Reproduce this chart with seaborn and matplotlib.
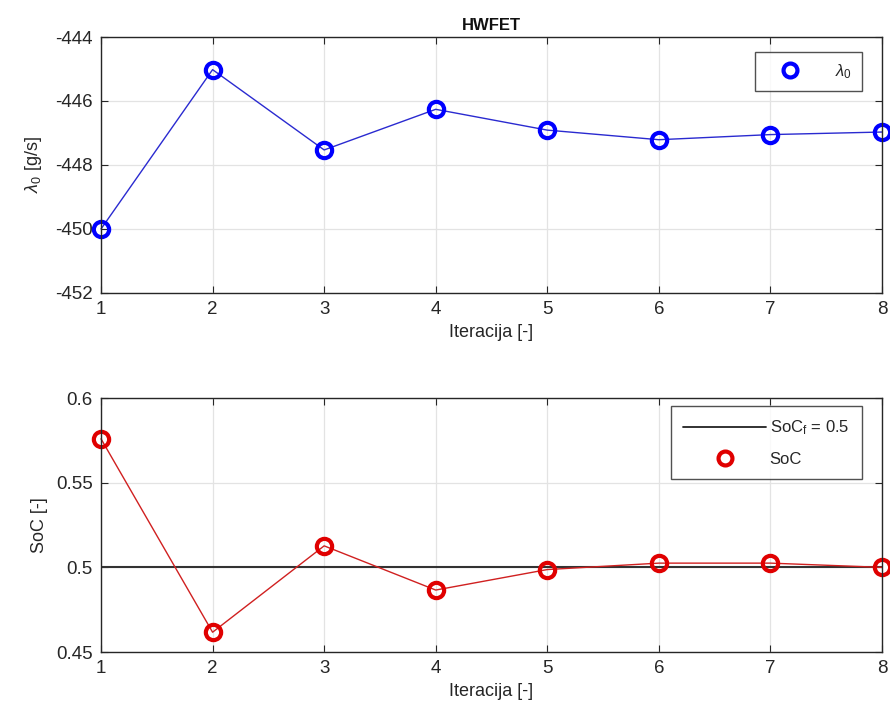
import numpy as np
import pandas as pd
import seaborn as sns
import matplotlib
matplotlib.use("Agg")
import matplotlib.pyplot as plt
from matplotlib.lines import Line2D

# ---- data ----
iterations = [1, 2, 3, 4, 5, 6, 7, 8]
lambda0 = [-450.0, -445.02, -447.53, -446.26, -446.91, -447.21, -447.05, -446.97]
soc = [0.5759, 0.4617, 0.5127, 0.4866, 0.4987, 0.5025, 0.5025, 0.5000]
soc_final = 0.5
title = "HWFET"
xlabel = "Iteracija [-]"
ylabel_top = r"$\lambda_0$ [g/s]"
ylabel_bot = "SoC [-]"
legend_top = [r"$\lambda_0$"]
legend_bot = [r"SoC$_{\rm f}$ = 0.5", "SoC"]
yticks_top = [-452, -450, -448, -446, -444]
yticks_bot = [0.45, 0.5, 0.55, 0.6]
ytick_labels_bot = ["0.45", "0.5", "0.55", "0.6"]

sns.set_theme(style="white")
plt.rcParams["font.family"] = ["Liberation Sans", "DejaVu Sans"]
plt.rcParams["mathtext.fontset"] = "custom"
plt.rcParams["mathtext.rm"] = "Liberation Sans"
plt.rcParams["mathtext.it"] = "Liberation Sans:italic"
plt.rcParams["axes.unicode_minus"] = False

df = pd.DataFrame({"it": iterations, "lam": lambda0, "soc": soc})

fig = plt.figure(figsize=(8.9, 7.2), dpi=100)
ax1 = fig.add_axes([0.1135, 0.5931, 0.991 - 0.1135, 0.9486 - 0.5931])
ax2 = fig.add_axes([0.1135, 0.0944, 0.991 - 0.1135, 0.4472 - 0.0944])

blue = "#0000ff"
red = "#e00000"

sns.lineplot(data=df, x="it", y="lam", ax=ax1, color="#2a2ad0", linewidth=1.0,
             marker="o", markersize=11, markerfacecolor="none",
             markeredgecolor=blue, markeredgewidth=3.0, legend=False, clip_on=False)
ax2.axhline(soc_final, color="#333333", linewidth=1.5, zorder=1)
sns.lineplot(data=df, x="it", y="soc", ax=ax2, color="#d02020", linewidth=1.0,
             marker="o", markersize=11, markerfacecolor="none",
             markeredgecolor=red, markeredgewidth=3.0, legend=False, clip_on=False)

for ax, yt in ((ax1, yticks_top), (ax2, yticks_bot)):
    ax.set_xlim(1, 8)
    ax.set_xticks(iterations)
    ax.set_yticks(yt)
    ax.set_ylim(yt[0], yt[-1])
    ax.grid(True, color="#e3e3e3", linewidth=0.9)
    ax.set_axisbelow(True)
    ax.tick_params(direction="in", length=5, width=0.8, colors="#262626",
                   labelsize=13.5, labelcolor="#262626", top=True, right=True,
                   bottom=True, left=True, pad=6)
    for s in ax.spines.values():
        s.set_color("#262626")
        s.set_linewidth(1.0)
    ax.set_xlabel(xlabel, fontsize=13, color="#262626", labelpad=4)

ax2.set_yticklabels(ytick_labels_bot)
ax1.set_ylabel(ylabel_top, fontsize=13, color="#262626", labelpad=8)
ax2.set_ylabel(ylabel_bot, fontsize=13, color="#262626", labelpad=6)
ax1.set_title(title, fontsize=12, fontweight="bold", color="#111111", pad=5)

h1 = [Line2D([], [], linestyle="none", marker="o", markersize=10,
             markerfacecolor="none", markeredgecolor=blue, markeredgewidth=3)]
leg1 = ax1.legend(h1, legend_top, loc="upper right", bbox_to_anchor=(0.974, 0.941),
                  borderaxespad=0, fontsize=12, frameon=True, fancybox=False,
                  edgecolor="#262626", handlelength=3.0, handletextpad=1.2, borderpad=0.6)
leg1.get_frame().set_linewidth(1.0)

h2 = [Line2D([], [], color="#222222", linewidth=1.3),
      Line2D([], [], linestyle="none", marker="o", markersize=10,
             markerfacecolor="none", markeredgecolor=red, markeredgewidth=3)]
leg2 = ax2.legend(h2, legend_bot, loc="upper right", bbox_to_anchor=(0.974, 0.968),
                  borderaxespad=0, fontsize=12, frameon=True, fancybox=False,
                  edgecolor="#262626", handlelength=5.0, handletextpad=0.2,
                  borderpad=0.75, labelspacing=0.85)
leg2.get_frame().set_linewidth(1.0)

fig.savefig("out.png", dpi=100, facecolor="white")
